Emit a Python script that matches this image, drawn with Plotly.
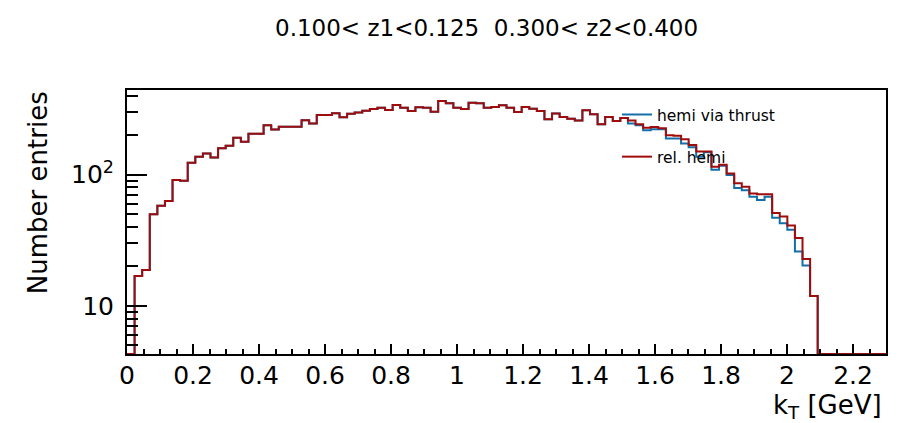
import numpy as np
import plotly.graph_objects as go

# Histogram binning (k_T in GeV)
kt_low = 0.0
kt_high = 2.3
n_bins = 100

# Bin contents (0 = empty bin)
rel_hemi = [
    0, 16.9, 18.8, 50, 58, 63, 91, 90, 123, 137,
    145, 135, 159, 166, 191, 178, 205, 205, 238, 221,
    232, 232, 232, 260, 245, 285, 285, 294, 274, 291,
    297, 307, 316, 324, 311, 339, 324, 305, 327, 324,
    302, 364, 350, 324, 316, 353, 350, 324, 328, 338,
    324, 300, 328, 318, 305, 264, 292, 275, 267, 259,
    309, 289, 242, 275, 256, 270, 259, 242, 228, 231,
    226, 200, 198, 186, 168, 150, 150, 115, 119, 102,
    86, 81, 72, 71, 71, 51, 48, 41, 33, 22.8,
    11.9, 0, 0, 0, 0, 0, 0, 0, 0, 0,
]

hemi_thrust = [
    0, 16.9, 18.8, 50, 58, 63, 91, 90, 123, 137,
    145, 135, 159, 166, 191, 178, 205, 205, 238, 221,
    232, 232, 232, 260, 245, 285, 285, 294, 274, 291,
    297, 307, 316, 324, 311, 339, 324, 305, 327, 324,
    302, 364, 350, 324, 316, 353, 350, 324, 328, 338,
    324, 300, 328, 318, 305, 264, 292, 275, 267, 259,
    309, 289, 242, 275, 256, 270, 245, 238, 218, 222,
    222, 189, 189, 173, 162, 137, 148, 109, 117, 99.5,
    79, 76, 68, 64, 68, 47, 42.7, 38, 26, 20.3,
    11.9, 0, 0, 0, 0, 0, 0, 0, 0, 0,
]

series_names = ["hemi via thrust", "rel. hemi"]
series_colors = ["#136fa8", "#a00c0c"]

title_text = "0.100&lt; z1&lt;0.125\u00a0\u00a00.300&lt; z2&lt;0.400"
y_tickvals = [10, 100]
y_ticktext = ["10", "10<sup>2</sup>"]
y_minor_vals = [5, 6, 7, 8, 9, 20, 30, 40, 50, 60, 70, 80, 90, 200, 300, 400]

log_ymin = 0.634
log_ymax = 2.645
ymin = 10 ** log_ymin

edges = np.linspace(kt_low, kt_high, n_bins + 1)


def step_xy(values):
    yv = [max(v, ymin) for v in values]
    return list(edges), yv + [yv[-1]]


font_family = "DejaVu Sans, Liberation Sans, Arial, sans-serif"

fig = go.Figure()
for i, (name, vals) in enumerate(zip(series_names, [hemi_thrust, rel_hemi])):
    x, y = step_xy(vals)
    fig.add_trace(go.Scatter(
        x=x, y=y, mode="lines", name=name,
        line=dict(color=series_colors[i], width=2, shape="hv"),
        legendgroup="g%d" % i,
        hoverinfo="skip",
    ))

# The page body has an 8px default margin, so the figure is sized to fit
fig.update_layout(
    width=906, height=415,
    margin=dict(l=119, r=28, t=82, b=69),
    paper_bgcolor="white", plot_bgcolor="white",
    font=dict(family=font_family, color="black"),
    showlegend=True,
    legend=dict(
        x=0.6456, y=0.97, xanchor="left", yanchor="top",
        bgcolor="rgba(0,0,0,0)", borderwidth=0,
        font=dict(size=15.5, family=font_family),
        tracegroupgap=19, traceorder="grouped",
    ),
    xaxis=dict(
        range=[kt_low, kt_high], showgrid=False, zeroline=False,
        showline=True, linecolor="black", linewidth=2, mirror=True,
        ticks="inside", ticklen=10, tickwidth=2, tickcolor="black",
        tick0=0, dtick=0.2,
        tickfont=dict(size=25),
        ticklabelstandoff=-2,
        minor=dict(ticks="inside", ticklen=5, tickwidth=2, tickcolor="black",
                   tick0=0, dtick=0.05),
    ),
    yaxis=dict(
        type="log", range=[log_ymin, log_ymax], showgrid=False, zeroline=False,
        showline=True, linecolor="black", linewidth=2, mirror=True,
        ticks="inside", ticklen=20, tickwidth=2, tickcolor="black",
        tickmode="array", tickvals=y_tickvals, ticktext=y_ticktext,
        tickfont=dict(size=25),
        ticklabelstandoff=6,
        minor=dict(ticks="inside", ticklen=11, tickwidth=2, tickcolor="black",
                   tickmode="array", tickvals=y_minor_vals),
    ),
    annotations=[
        dict(text=title_text, xref="paper", yref="paper", x=0.473, y=1.235,
             xanchor="center", yanchor="middle", showarrow=False,
             font=dict(size=23)),
        dict(text="Number entries", xref="paper", yref="paper", x=-0.117, y=0.61,
             xanchor="center", yanchor="middle", showarrow=False, textangle=-90,
             font=dict(size=26)),
        dict(text="k<sub>T</sub> [GeV]", xref="paper", yref="paper", x=0.997, y=-0.2,
             xanchor="right", yanchor="middle", showarrow=False,
             font=dict(size=26)),
    ],
)

fig.write_html("out.html")
